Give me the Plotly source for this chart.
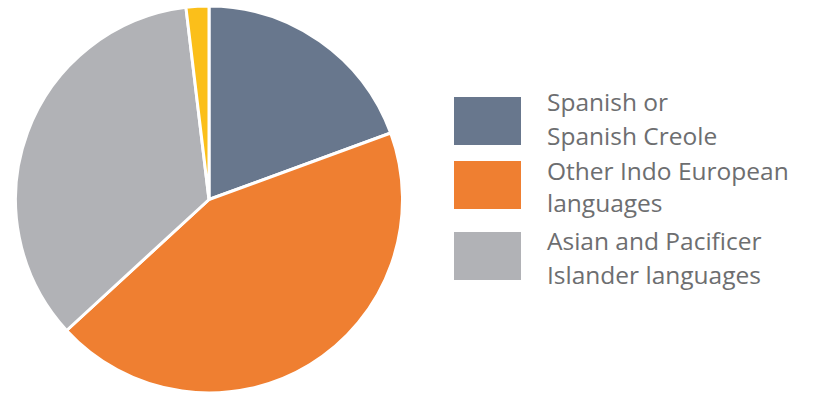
import plotly.graph_objects as go

W, H = 816, 393

# Share of speakers by language group
labels = ["Spanish or Spanish Creole", "Other Indo European languages",
          "Asian and Pacificer Islander languages", "Other languages"]
values = [19.4, 43.7, 34.9, 1.9]
colors = ["#68778d", "#ef7f31", "#b1b2b6", "#fbbf1a"]

# Legend entries (first three groups), each label split over two lines
legend_lines = [["Spanish or", "Spanish Creole"],
                ["Other Indo European", "languages"],
                ["Asian and Pacificer", "Islander languages"]]

fig = go.Figure(go.Pie(
    labels=labels,
    values=values,
    marker=dict(colors=colors, line=dict(color="white", width=3)),
    sort=False,
    direction="clockwise",
    rotation=0,
    textinfo="none",
    hoverinfo="label+percent",
    domain=dict(x=[15.5 / W, 402.5 / W], y=[0, 1 - 6 / H]),
    showlegend=False,
))

def py(px):
    return 1 - px / H

# Legend swatches and text drawn in paper space
swatch_tops = [97, 161, 232]
line_centres = [(101, 135), (170, 202), (240, 274)]
for i, lines in enumerate(legend_lines):
    top = swatch_tops[i]
    fig.add_shape(type="rect", xref="paper", yref="paper",
                  x0=454 / W, x1=521 / W, y0=py(top + 48), y1=py(top),
                  fillcolor=colors[i], line=dict(width=0))
    for text, yc in zip(lines, line_centres[i]):
        fig.add_annotation(xref="paper", yref="paper", x=545 / W, y=py(yc),
                           xanchor="left", yanchor="middle", showarrow=False,
                           text=text,
                           font=dict(family="Open Sans", size=24.5, color="#6d6e70"))

fig.update_layout(width=W, height=H, margin=dict(l=0, r=0, t=0, b=0),
                  paper_bgcolor="white", plot_bgcolor="white")

fig.write_html("out.html")
